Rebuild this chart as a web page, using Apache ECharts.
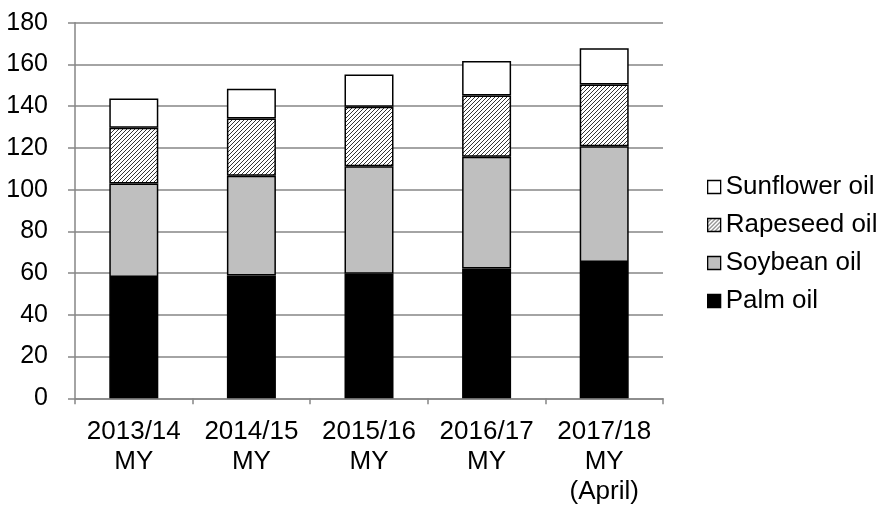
<!DOCTYPE html>
<html>
<head>
<meta charset="utf-8">
<script src="https://cdn.jsdelivr.net/npm/echarts@6/dist/echarts.min.js"></script>
<style>
html,body{margin:0;padding:0;background:#fff;}
#chart{width:881px;height:505px;}
</style>
</head>
<body>
<div id="chart"></div>
<script>
var categories = ['2013/14\nMY', '2014/15\nMY', '2015/16\nMY', '2016/17\nMY', '2017/18\nMY\n(April)'];
var palmOil = [58.1, 58.9, 59.7, 62.2, 65.3];
var soybeanOil = [44.8, 47.8, 51.5, 53.5, 55.5];
var rapeseedOil = [26.7, 27.4, 28.5, 29.4, 29.6];
var sunflowerOil = [14.1, 14.2, 15.5, 16.5, 17.3];
var yTicks = {min: 0, max: 180, interval: 20};
var legendOrder = ['Sunflower oil', 'Rapeseed oil', 'Soybean oil', 'Palm oil'];

function hatch() {
  var c = document.createElement('canvas');
  c.width = 4; c.height = 4;
  var g = c.getContext('2d');
  g.fillStyle = '#fff';
  g.fillRect(0, 0, 4, 4);
  g.strokeStyle = '#111';
  g.lineWidth = 0.85;
  g.beginPath();
  g.moveTo(-1, 5); g.lineTo(5, -1);
  g.moveTo(-1, 1); g.lineTo(1, -1);
  g.moveTo(3, 5); g.lineTo(5, 3);
  g.stroke();
  return c;
}

var FONT = 'Liberation Sans, Arial, sans-serif';
var chart = echarts.init(document.getElementById('chart'), null, {renderer: 'canvas'});
function mk(name, data, color) {
  return {
    name: name, type: 'bar', stack: 'total', data: data, barWidth: 49,
    itemStyle: {color: color, borderColor: '#000', borderWidth: 1.5},
    emphasis: {disabled: true}
  };
}
chart.setOption({
  animation: false,
  textStyle: {fontFamily: FONT},
  grid: {left: 75, right: 218, top: 22.7, bottom: 106.7, containLabel: false, outerBoundsMode: 'none'},
  legend: {
    orient: 'vertical', left: 707, top: 174, padding: 0,
    data: legendOrder,
    icon: 'rect', itemWidth: 13, itemHeight: 13, itemGap: 12,
    textStyle: {fontSize: 26, color: '#000', fontFamily: FONT, lineHeight: 26},
    itemStyle: {borderColor: '#000', borderWidth: 1.3}
  },
  xAxis: {
    type: 'category', data: categories,
    axisLine: {lineStyle: {color: '#868686', width: 1.5}},
    axisTick: {show: true, length: 6, lineStyle: {color: '#868686', width: 1.5}},
    axisLabel: {fontSize: 26, color: '#000', lineHeight: 30, margin: 19, fontFamily: FONT, interval: 0}
  },
  yAxis: {
    type: 'value', min: yTicks.min, max: yTicks.max, interval: yTicks.interval,
    axisLine: {show: true, lineStyle: {color: '#868686', width: 1.5}},
    axisTick: {show: true, length: 7, lineStyle: {color: '#868686', width: 1.5}},
    splitLine: {lineStyle: {color: '#868686', width: 1.5}},
    axisLabel: {fontSize: 25, color: '#000', margin: 27, fontFamily: FONT}
  },
  series: [
    mk('Palm oil', palmOil, '#000000'),
    mk('Soybean oil', soybeanOil, '#bfbfbf'),
    mk('Rapeseed oil', rapeseedOil, {image: hatch(), repeat: 'repeat'}),
    mk('Sunflower oil', sunflowerOil, '#ffffff')
  ]
});
</script>
</body>
</html>
